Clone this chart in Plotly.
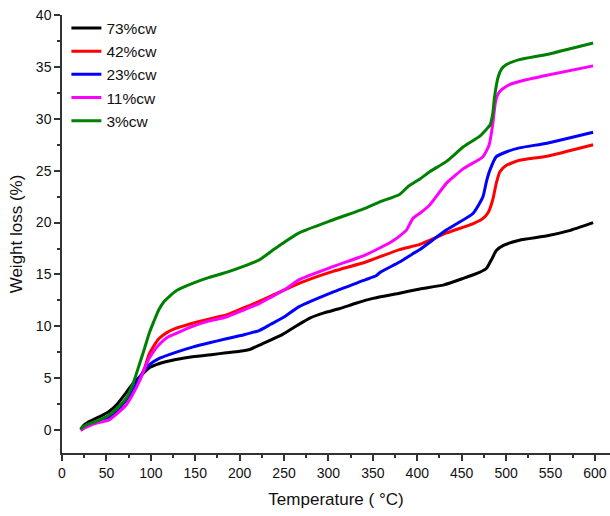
import plotly.graph_objects as go

names = ["73%cw", "42%cw", "23%cw", "11%cw", "3%cw"]
colors = ["#000000", "#ff0000", "#0000ff", "#ff00ff", "#008000"]

t_73 = [21, 25, 30, 40, 53, 62, 72, 80, 87, 93, 98, 109, 128, 147, 170, 185, 200, 212, 225, 248, 265, 279, 295, 312, 330, 350, 380, 403, 430, 451, 470, 478, 484, 489, 497, 515, 545, 570, 598]
w_73 = [0.1, 0.5, 0.8, 1.2, 1.8, 2.5, 3.6, 4.5, 5.1, 5.6, 6.0, 6.4, 6.8, 7.07, 7.3, 7.45, 7.6, 7.8, 8.3, 9.2, 10.1, 10.8, 11.3, 11.7, 12.2, 12.7, 13.2, 13.6, 14.0, 14.6, 15.2, 15.6, 16.5, 17.3, 17.8, 18.3, 18.7, 19.2, 20.0]

t_42 = [21, 25, 30, 40, 53, 62, 72, 80, 87, 93, 98, 104, 109, 118, 128, 147, 165, 185, 205, 222, 240, 267, 305, 342, 380, 403, 433, 463, 474, 480, 485, 489, 493, 500, 515, 546, 598]
w_42 = [0.0, 0.3, 0.5, 0.8, 1.3, 2.0, 2.9, 3.9, 4.8, 6.0, 7.3, 8.2, 8.8, 9.4, 9.8, 10.3, 10.7, 11.1, 11.8, 12.4, 13.1, 14.15, 15.3, 16.2, 17.4, 17.9, 19.0, 19.9, 20.4, 21.0, 22.2, 23.8, 24.9, 25.5, 26.0, 26.4, 27.5]

t_23 = [21, 25, 30, 40, 53, 62, 72, 80, 87, 93, 98, 109, 128, 147, 165, 185, 205, 222, 235, 250, 267, 305, 342, 354, 358, 380, 395, 403, 433, 463, 474, 478, 482, 489, 500, 515, 546, 598]
w_23 = [0.0, 0.3, 0.5, 0.8, 1.2, 1.9, 2.9, 3.9, 5.0, 5.8, 6.3, 6.9, 7.5, 8.0, 8.4, 8.8, 9.2, 9.6, 10.2, 10.9, 11.9, 13.3, 14.5, 14.9, 15.2, 16.2, 17.0, 17.4, 19.3, 20.9, 22.5, 24.0, 25.1, 26.35, 26.8, 27.2, 27.65, 28.7]

t_11 = [21, 25, 30, 40, 53, 62, 72, 80, 87, 93, 98, 104, 109, 118, 128, 147, 165, 185, 205, 222, 235, 252, 267, 305, 342, 370, 380, 388, 395, 403, 414, 433, 452, 474, 481, 485, 488, 491, 495, 504, 515, 546, 598]
w_11 = [0.0, 0.2, 0.4, 0.7, 1.0, 1.6, 2.4, 3.5, 4.7, 5.9, 6.9, 7.7, 8.2, 8.9, 9.3, 10.0, 10.5, 10.9, 11.6, 12.2, 12.8, 13.6, 14.5, 15.75, 16.9, 18.1, 18.7, 19.3, 20.4, 20.9, 21.7, 23.8, 25.2, 26.35, 27.5, 29.5, 31.6, 32.4, 32.8, 33.3, 33.6, 34.2, 35.1]

t_3 = [21, 25, 30, 40, 53, 62, 72, 80, 87, 93, 98, 104, 109, 115, 121, 130, 147, 165, 185, 205, 222, 240, 267, 305, 342, 358, 380, 390, 403, 414, 433, 452, 470, 478, 482, 485, 487, 491, 495, 500, 515, 546, 598]
w_3 = [0.1, 0.4, 0.6, 0.9, 1.45, 2.1, 3.06, 4.5, 6.3, 7.9, 9.3, 10.6, 11.6, 12.4, 12.9, 13.5, 14.15, 14.7, 15.2, 15.8, 16.4, 17.5, 19.0, 20.25, 21.4, 22.0, 22.7, 23.5, 24.2, 24.9, 25.9, 27.3, 28.3, 29.0, 29.4, 30.5, 32.1, 34.0, 34.8, 35.2, 35.7, 36.2, 37.3]

xs = [t_73, t_42, t_23, t_11, t_3]
ys = [w_73, w_42, w_23, w_11, w_3]

x_ticks = list(range(0, 601, 50))
y_ticks = list(range(0, 41, 5))

FONT = "Liberation Sans, Arial, sans-serif"
AX = "#333333"

fig = go.Figure()
for n, c, x, y in zip(names, colors, xs, ys):
    fig.add_trace(go.Scatter(x=x, y=y, mode="lines", name=n,
                             line=dict(color=c, width=3, shape="spline", smoothing=0.5)))

fig.update_layout(
    width=610, height=516,
    margin=dict(l=62, r=0, t=15, b=63),
    plot_bgcolor="white", paper_bgcolor="white",
    font=dict(family=FONT, size=14, color="#111111"),
    showlegend=True,
    legend=dict(x=0.008, y=1.008, xanchor="left", yanchor="top",
                bgcolor="rgba(0,0,0,0)", font=dict(size=15.5, family=FONT),
                itemwidth=30, tracegroupgap=0),
    xaxis=dict(range=[0, 617], tickvals=x_ticks, ticks="outside", ticklen=6, tickwidth=1.5,
               tickcolor=AX, showline=True, linecolor=AX, linewidth=1.5, mirror=False,
               showgrid=False, zeroline=False, automargin=False,
               minor=dict(dtick=25, tick0=0, ticks="outside", ticklen=3, tickcolor=AX, tickwidth=1.5),
               title=dict(text="Temperature ( °C)", font=dict(size=17, family=FONT), standoff=14),
               tickfont=dict(size=14, family=FONT)),
    yaxis=dict(range=[-2.2, 40], tickvals=y_ticks, ticks="outside", ticklen=6, tickwidth=1.5,
               tickcolor=AX, showline=True, linecolor=AX, linewidth=1.5, mirror=False,
               showgrid=False, zeroline=False, automargin=False,
               minor=dict(dtick=2.5, tick0=0, ticks="outside", ticklen=3, tickcolor=AX, tickwidth=1.5),
               title=dict(text="Weight loss (%)", font=dict(size=17, family=FONT), standoff=9),
               tickfont=dict(size=14, family=FONT)),
    xaxis2=dict(overlaying="x", side="top", anchor="y", range=[0, 10.05], tickvals=list(range(1, 10)),
                ticks="inside", ticklen=6, tickwidth=1.5, tickcolor=AX, showticklabels=False,
                showline=True, linecolor=AX, linewidth=1.5, showgrid=False, zeroline=False, automargin=False),
    yaxis2=dict(overlaying="y", side="right", anchor="x", range=[-0.037, 5.0], tickvals=[0, 1, 2, 3, 4, 5],
                ticks="inside", ticklen=6, tickwidth=1.5, tickcolor=AX, showticklabels=False,
                showline=False, showgrid=False, zeroline=False, automargin=False,
                minor=dict(tickvals=[0.5, 1.5, 2.5, 3.5, 4.5], ticks="inside", ticklen=3, tickcolor=AX, tickwidth=1.5)),
)

fig.write_html("out.html", config={"displayModeBar": False},
               post_script="document.body.style.margin='0px';document.body.style.overflow='hidden';")
